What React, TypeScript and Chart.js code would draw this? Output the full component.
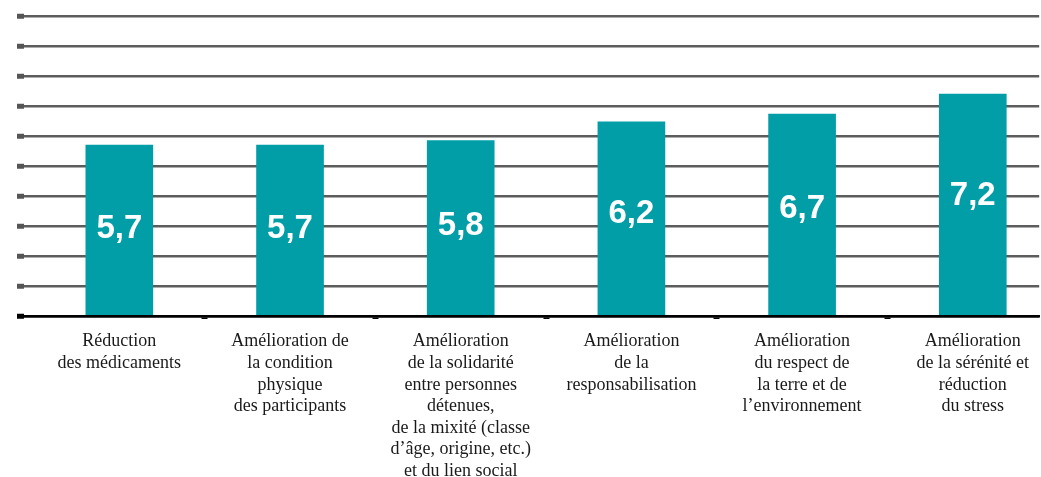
import React, { useEffect, useRef } from "react";
import { Chart, registerables } from "chart.js";

Chart.register(...registerables);

const categories: string[][] = [
  ["Réduction", "des médicaments"],
  ["Amélioration de", "la condition", "physique", "des participants"],
  ["Amélioration", "de la solidarité", "entre personnes", "détenues,", "de la mixité (classe", "d’âge, origine, etc.)", "et du lien social"],
  ["Amélioration", "de la", "responsabilisation"],
  ["Amélioration", "du respect de", "la terre et de", "l’environnement"],
  ["Amélioration", "de la sérénité et", "réduction", "du stress"],
];

// bar heights as drawn in the picture
const barValues: number[] = [5.7, 5.7, 5.85, 6.47, 6.73, 7.4];
// values printed inside the bars
const valueLabels: string[] = ["5,7", "5,7", "5,8", "6,2", "6,7", "7,2"];

const yTicks: number[] = [0, 1, 2, 3, 4, 5, 6, 7, 8, 9, 10];

const BAR_COLOR = "#019ea8";
const GRID_COLOR = "#5c5c5c";

const valueLabelPlugin = {
  id: "valueLabels",
  afterDatasetsDraw(chart: any) {
    const ctx = chart.ctx;
    const meta = chart.getDatasetMeta(0);
    ctx.save();
    ctx.fillStyle = "#ffffff";
    ctx.font = "bold 33px 'Liberation Sans', Arial, sans-serif";
    ctx.textAlign = "center";
    ctx.textBaseline = "middle";
    meta.data.forEach((el: any, i: number) => {
      const base = el.base;
      const h = base - el.y;
      const y = base - (0.637 * h - 18.5) + 3.5;
      ctx.fillText(valueLabels[i], el.x, y);
    });
    ctx.restore();
  },
};

export default function App() {
  const canvasRef = useRef<HTMLCanvasElement | null>(null);

  useEffect(() => {
    document.body.style.overflow = "hidden";
    if (!canvasRef.current) return;
    const chart = new Chart(canvasRef.current, {
      type: "bar",
      data: {
        datasets: [
          {
            data: barValues.map((v, i) => ({ x: i, y: v })),
            backgroundColor: BAR_COLOR,
            barThickness: 67,
            borderWidth: 0,
          },
        ],
      },
      options: {
        animation: false,
        responsive: false,
        devicePixelRatio: 1,
        layout: { padding: { top: 16, left: 0, right: 0, bottom: 0 } },
        plugins: {
          legend: { display: false },
          tooltip: { enabled: false },
        },
        scales: {
          x: {
            type: "linear",
            offset: false,
            min: -0.5585,
            max: 5.389,
            afterBuildTicks: (scale: any) => {
              scale.ticks = categories.map((_, i) => ({ value: i }));
            },
            afterFit: (scale: any) => {
              scale.height = 161;
            },
            border: { display: true, color: "#000000", width: 2.5 },
            grid: {
              offset: true,
              drawOnChartArea: false,
              drawTicks: true,
              tickLength: 3,
              tickWidth: 6,
              tickColor: (c: any) => (c.index === 0 ? "rgba(0,0,0,0)" : "#000000"),
              color: "rgba(0,0,0,0)",
            },
            ticks: {
              autoSkip: false,
              maxRotation: 0,
              minRotation: 0,
              padding: 12,
              color: "#1a1a1a",
              font: { family: "'Liberation Serif', serif", size: 18, lineHeight: 1.195 },
              callback: (value: any) => categories[Math.round(Number(value))] ?? "",
            },
          },
          y: {
            min: 0,
            max: 10,
            afterBuildTicks: (scale: any) => {
              scale.ticks = yTicks.map((v) => ({ value: v }));
            },
            afterFit: (scale: any) => {
              scale.width = 24;
            },
            border: { display: false },
            grid: {
              color: (c: any) => (c.tick && c.tick.value === 0 ? "#000000" : GRID_COLOR),
              lineWidth: 2.5,
              drawTicks: true,
              tickLength: 7,
              tickWidth: 5,
              tickColor: (c: any) => (c.tick && c.tick.value === 0 ? "#000000" : "#555555"),
            },
            ticks: { display: false },
          },
        },
      },
      plugins: [valueLabelPlugin],
    });
    return () => chart.destroy();
  }, []);

  return (
    <div
      style={{
        position: "absolute",
        left: 0,
        top: 0,
        width: 1041,
        height: 477,
        overflow: "hidden",
        background: "#ffffff",
      }}
    >
      <canvas ref={canvasRef} width={1041} height={477} style={{ display: "block", width: 1041, height: 477 }} />
    </div>
  );
}
